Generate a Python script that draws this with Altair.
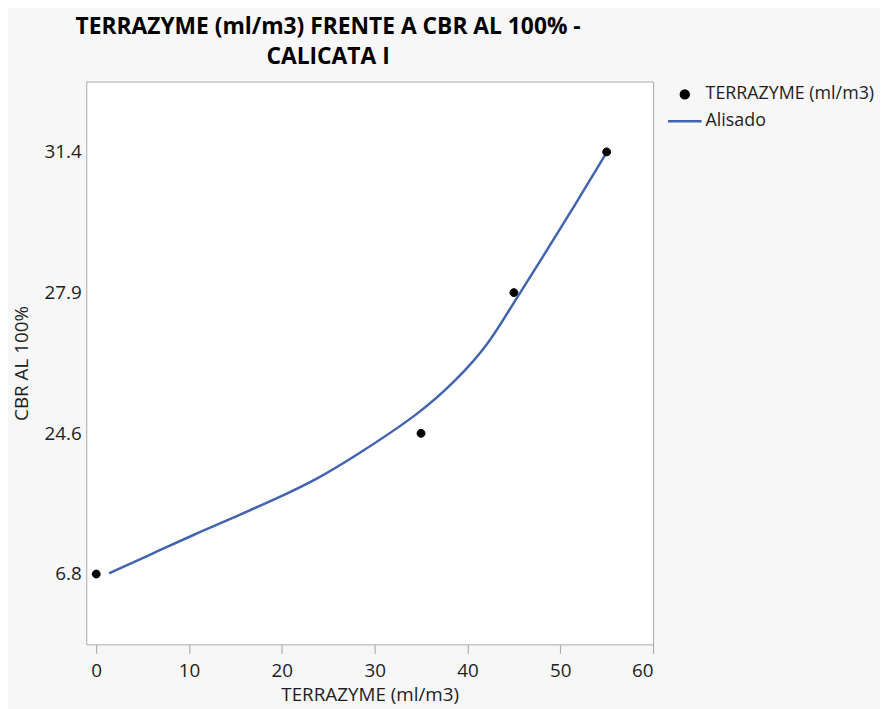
import altair as alt
import numpy as np
import pandas as pd

# Observed data
terrazyme = [0, 35, 45, 55]
cbr = [6.8, 24.6, 27.9, 31.4]
y_tick_labels = ["6.8", "24.6", "27.9", "31.4"]

# Smoothing curve ("Alisado")
smooth_x = [1.39, 6.91, 11.0, 15.27, 19.54, 23.81, 28.08, 34.84, 38.75, 42.31, 44.81, 48.0, 51.56, 54.95]
smooth_cbr = [6.89, 9.84, 12.03, 14.19, 16.41, 18.80, 21.84, 25.06, 25.83, 26.69, 27.61, 28.74, 30.07, 31.37]

series_names = ["TERRAZYME (ml/m3)", "Alisado"]
x_ticks = [0, 10, 20, 30, 40, 50, 60]

BLUE = "#4264b0"
TEXT = "#1e1e1e"
FONT = "Open Sans"
FS = 19

# The CBR axis places the observed levels at equal spacing
levels = np.arange(len(cbr))


def to_level(v):
    return np.interp(v, cbr, levels)


points = pd.DataFrame({
    "x": terrazyme,
    "cbr": cbr,
    "level": to_level(cbr),
    "series": series_names[0],
})
smooth = pd.DataFrame({
    "x": smooth_x,
    "cbr": smooth_cbr,
    "level": to_level(smooth_cbr),
})

label_expr = "[" + ",".join("'%s'" % s for s in y_tick_labels) + "][round(datum.value)]"

x_enc = alt.X(
    "x:Q",
    scale=alt.Scale(domain=[-1.07, 60], nice=False, zero=False),
    axis=alt.Axis(
        values=x_ticks, title="TERRAZYME (ml/m3)", grid=False, domain=False,
        tickSize=9, tickColor="#a0a0a0", labelPadding=8,
        labelFontSize=FS, labelFont=FONT, labelColor=TEXT,
        titleFontSize=FS, titleFont=FONT, titleColor=TEXT, titleFontWeight="normal",
        titleY=51, titleBaseline="middle",
    ),
)
y_enc = alt.Y(
    "level:Q",
    scale=alt.Scale(domain=[-0.5, 3.5], nice=False, zero=False),
    axis=alt.Axis(
        values=list(levels.tolist()), labelExpr=label_expr, title="CBR AL 100%",
        grid=False, domain=False, ticks=False, labelPadding=5,
        labelFontSize=FS, labelFont=FONT, labelColor=TEXT,
        titleFontSize=FS, titleFont=FONT, titleColor=TEXT, titleFontWeight="normal",
        titleX=-65, titleY=284, titleAngle=270, titleBaseline="middle", titleAlign="center",
    ),
)

circle_path = "M0,-0.47A0.47,0.47 0 1,1 0,0.47A0.47,0.47 0 1,1 0,-0.47Z"
line_path = "M-2,0L2,0"

legend = alt.Legend(
    title=None, orient="none", legendX=594, legendY=3, padding=0,
    symbolSize=289, symbolStrokeWidth=2.5, labelOffset=11, rowPadding=8,
    labelFontSize=18, labelFont=FONT, labelColor=TEXT, symbolOpacity=1,
    labelLimit=400,
)

line = alt.Chart(smooth).mark_line(
    interpolate="basis", strokeWidth=2.5, color=BLUE
).encode(x=x_enc, y=y_enc)

dots = alt.Chart(points).mark_point(
    filled=True, size=289, strokeWidth=1, opacity=1
).encode(
    x=x_enc,
    y=y_enc,
    fill=alt.Fill("series:N", scale=alt.Scale(domain=series_names, range=["black", BLUE]), legend=legend),
    stroke=alt.Stroke("series:N", scale=alt.Scale(domain=series_names, range=["black", BLUE]), legend=legend),
    shape=alt.Shape("series:N", scale=alt.Scale(domain=series_names, range=[circle_path, line_path]), legend=legend),
)

chart = alt.layer(line, dots).properties(
    width=572,
    height=568,
    autosize=alt.AutoSizeParams(type="none"),
    padding={"left": 79, "top": 71, "right": 229, "bottom": 62},
    background="#f7f7f7",
    title=alt.TitleParams(
        text=["TERRAZYME (ml/m3) FRENTE A CBR AL 100% -", "CALICATA I"],
        anchor="start", frame="group", align="center", dx=244,
        fontSize=23, font=FONT, fontWeight="bold", color="black",
        lineHeight=30, offset=13,
    ),
).configure_view(
    fill="white", stroke="#a8a8a8", strokeWidth=1
)

chart.save("out.html", embed_options={"renderer": "svg", "actions": False})
